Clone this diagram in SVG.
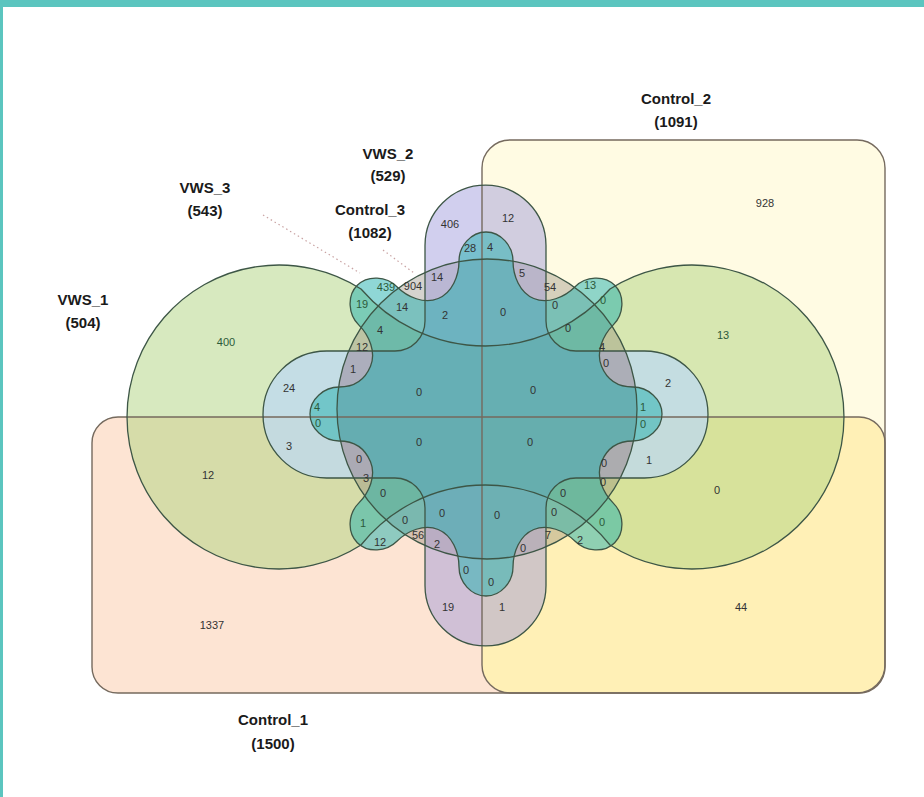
<svg xmlns="http://www.w3.org/2000/svg" width="924" height="797" viewBox="0 0 924 797">
  <style>
    .frame { fill: #5bc5bf; }
    .outline { fill: none; stroke: #3d5646; stroke-width: 1.3; }
    .box-line { fill: none; stroke: #756a5e; stroke-width: 1.4; }
    .f-c1 { fill: #fde4d3; }
    .f-c2 { fill: #fffbe3; }
    .f-both { fill: #fff0b6; }
    .f-green { fill: #afd480; fill-opacity: 0.5; }
    .f-ring { fill: #8a8272; fill-opacity: 0.35; }
    .f-purple { fill: #9a94da; fill-opacity: 0.45; }
    .f-blue { fill: #cdf8ff; fill-opacity: 0.5; }
    .f-cyan { fill: #1fb0ad; fill-opacity: 0.5; }
    .name { font-family: "Liberation Sans", Arial, sans-serif; font-weight: bold; font-size: 15px; fill: #1a1a1a; text-anchor: middle; }
    .num { font-family: "Liberation Sans", Arial, sans-serif; font-size: 11px; fill: #333; text-anchor: middle; dominant-baseline: central; }
    .g { fill: #2c5a3a; }
    .leader { stroke: #c9a3a3; stroke-width: 1.2; stroke-dasharray: 1.5 3; fill: none; }
  </style>

  <defs>
    <rect id="p-c1" x="92" y="417" width="793" height="276" rx="26"/>
    <rect id="p-c2" x="482" y="140" width="403" height="553" rx="28"/>
    <!-- two big circles joined by a pinched waist -->
    <path id="p-vws1" d="M361,289 A152,152 0 1 0 361,545 A159.2,159.2 0 0 1 610,545 A152,152 0 1 0 610,289 A164.5,164.5 0 0 1 361,289 Z"/>
    <!-- plain circle -->
    <circle id="p-c3" cx="487" cy="409" r="150"/>
    <!-- rounded cross: tongues up/down, lobes left/right -->
    <path id="p-vws2" d="M425,245.5 A60.5,60.5 0 0 1 546,245.5 L546,321 A30,30 0 0 0 576,351 L644.5,351 A63.5,63.5 0 0 1 644.5,478 L576,478 A30,30 0 0 0 546,508 L546,585.5 A60.5,60.5 0 0 1 425,585.5 L425,508 A30,30 0 0 0 395,478 L326.5,478 A63.5,63.5 0 0 1 326.5,351 L395,351 A30,30 0 0 0 425,321 Z"/>
    <!-- eight-lobed cog -->
    <path id="p-vws3" d="M601.5,366.2 C607.2,380.1 618,387 633,387 C647.9,387 662,399.1 662,414 C662,428.9 647.9,441 633,441 C618,441 607.2,447.9 601.5,461.8 C595.7,475.7 602.7,492.5 613.3,503.1 C623.8,513.6 625.2,532.2 614.7,542.7 C604.2,553.2 585.6,551.8 575.1,541.3 C564.5,530.7 547.7,523.7 533.8,529.5 C519.9,535.2 513,552 513,567 C513,581.9 500.9,596 486,596 C471.1,596 459,581.9 459,567 C459,552 452.1,535.2 438.2,529.5 C424.3,523.7 407.5,530.7 396.9,541.3 C386.4,551.8 367.8,553.2 357.3,542.7 C346.8,532.2 348.2,513.6 358.7,503.1 C369.3,492.5 376.3,475.7 370.5,461.8 C364.8,447.9 354,441 339,441 C324.1,441 310,428.9 310,414 C310,399.1 324.1,387 339,387 C354,387 364.8,380.1 370.5,366.2 C376.3,352.3 369.3,335.5 358.7,324.9 C348.2,314.4 346.8,295.8 357.3,285.3 C367.8,274.8 386.4,276.2 396.9,286.7 C407.5,297.3 424.3,304.3 438.2,298.5 C452.1,292.8 459,276 459,261 C459,246.1 471.1,232 486,232 C500.9,232 513,246.1 513,261 C513,276 519.9,292.8 533.8,298.5 C547.7,304.3 564.5,297.3 575.1,286.7 C585.6,276.2 604.2,274.8 614.7,285.3 C625.2,295.8 623.8,314.4 613.3,324.9 C602.7,335.5 595.7,352.3 601.5,366.2 Z"/>
  </defs>

  <rect width="924" height="797" fill="#ffffff"/>
  <rect class="frame" x="0" y="0" width="924" height="7"/>
  <rect class="frame" x="0" y="0" width="3" height="797"/>

  <g id="control_1"><use href="#p-c1" class="f-c1"/></g>
  <g id="control_2">
    <use href="#p-c2" class="f-c2"/>
    <!-- shared part of the two boxes -->
    <path class="f-both" d="M482,417 L859,417 A26,26 0 0 1 885,443 L885,665 A28,28 0 0 1 857,693 L510,693 A28,28 0 0 1 482,665 Z"/>
  </g>
  <g id="vws_1"><use href="#p-vws1" class="f-green"/></g>
  <g id="control_3"><use href="#p-c3" class="f-ring"/></g>
  <g id="vws_2">
    <use href="#p-vws2" class="f-purple"/>
    <!-- side lobes outside the circle read bluer -->
    <path class="f-blue" d="M348.7,351 L326.5,351 A63.5,63.5 0 0 0 326.5,478 L353.8,478 A150,150 0 0 1 348.7,351 Z"/>
    <path class="f-blue" d="M625.3,351 L644.5,351 A63.5,63.5 0 0 1 644.5,478 L620.2,478 A150,150 0 0 0 625.3,351 Z"/>
  </g>
  <g id="vws_3"><use href="#p-vws3" class="f-cyan"/></g>

  <!-- outlines drawn over all fills -->
  <g id="outlines">
    <use href="#p-c1" class="box-line"/>
    <use href="#p-c2" class="box-line"/>
    <use href="#p-vws1" class="outline"/>
    <use href="#p-c3" class="outline"/>
    <use href="#p-vws2" class="outline"/>
    <use href="#p-vws3" class="outline"/>
  </g>

  <g id="connectors">
    <line class="leader" x1="263" y1="215" x2="360" y2="273"/>
    <line class="leader" x1="383" y1="250" x2="414" y2="273"/>
  </g>

  <g id="labels">
    <text class="name" x="676" y="104">Control_2</text>
    <text class="name" x="676" y="127">(1091)</text>
    <text class="name" x="388" y="159">VWS_2</text>
    <text class="name" x="388" y="181">(529)</text>
    <text class="name" x="205" y="193">VWS_3</text>
    <text class="name" x="205" y="216">(543)</text>
    <text class="name" x="370" y="215">Control_3</text>
    <text class="name" x="370" y="238">(1082)</text>
    <text class="name" x="83" y="305">VWS_1</text>
    <text class="name" x="83" y="328">(504)</text>
    <text class="name" x="273" y="725">Control_1</text>
    <text class="name" x="273" y="749">(1500)</text>
  </g>

  <g id="counts">
    <text class="num" x="765" y="203">928</text>
    <text class="num" x="450" y="224">406</text>
    <text class="num" x="508" y="218">12</text>
    <text class="num" x="470" y="248">28</text>
    <text class="num" x="490" y="247">4</text>
    <text class="num" x="437" y="277">14</text>
    <text class="num" x="413" y="286">904</text>
    <text class="num g" x="386" y="287">439</text>
    <text class="num g" x="362" y="304">19</text>
    <text class="num" x="402" y="307">14</text>
    <text class="num" x="445" y="315">2</text>
    <text class="num" x="503" y="312">0</text>
    <text class="num" x="522" y="273">5</text>
    <text class="num" x="550" y="287">54</text>
    <text class="num g" x="590" y="285">13</text>
    <text class="num g" x="603" y="300">0</text>
    <text class="num" x="555" y="305">0</text>
    <text class="num" x="568" y="328">0</text>
    <text class="num" x="602" y="347">4</text>
    <text class="num" x="606" y="363">0</text>
    <text class="num g" x="723" y="335">13</text>
    <text class="num" x="668" y="383">2</text>
    <text class="num g" x="643" y="407">1</text>
    <text class="num g" x="643" y="424">0</text>
    <text class="num" x="649" y="460">1</text>
    <text class="num" x="604" y="463">0</text>
    <text class="num" x="603" y="482">0</text>
    <text class="num" x="717" y="490">0</text>
    <text class="num g" x="226" y="342">400</text>
    <text class="num" x="289" y="388">24</text>
    <text class="num g" x="317" y="407">4</text>
    <text class="num g" x="318" y="423">0</text>
    <text class="num" x="289" y="446">3</text>
    <text class="num" x="362" y="347">12</text>
    <text class="num" x="380" y="330">4</text>
    <text class="num" x="353" y="369">1</text>
    <text class="num" x="419" y="392">0</text>
    <text class="num" x="533" y="390">0</text>
    <text class="num" x="419" y="442">0</text>
    <text class="num" x="530" y="442">0</text>
    <text class="num" x="359" y="459">0</text>
    <text class="num" x="366" y="478">3</text>
    <text class="num" x="383" y="493">0</text>
    <text class="num g" x="363" y="523">1</text>
    <text class="num" x="380" y="542">12</text>
    <text class="num" x="405" y="520">0</text>
    <text class="num" x="418" y="535">56</text>
    <text class="num" x="437" y="544">2</text>
    <text class="num" x="442" y="513">0</text>
    <text class="num" x="497" y="515">0</text>
    <text class="num" x="466" y="570">0</text>
    <text class="num" x="491" y="582">0</text>
    <text class="num" x="523" y="548">0</text>
    <text class="num" x="548" y="535">7</text>
    <text class="num" x="580" y="540">2</text>
    <text class="num" x="554" y="512">0</text>
    <text class="num" x="563" y="493">0</text>
    <text class="num g" x="602" y="522">0</text>
    <text class="num" x="448" y="607">19</text>
    <text class="num" x="502" y="607">1</text>
    <text class="num" x="741" y="607">44</text>
    <text class="num" x="212" y="625">1337</text>
    <text class="num" x="208" y="475">12</text>
  </g>
</svg>
